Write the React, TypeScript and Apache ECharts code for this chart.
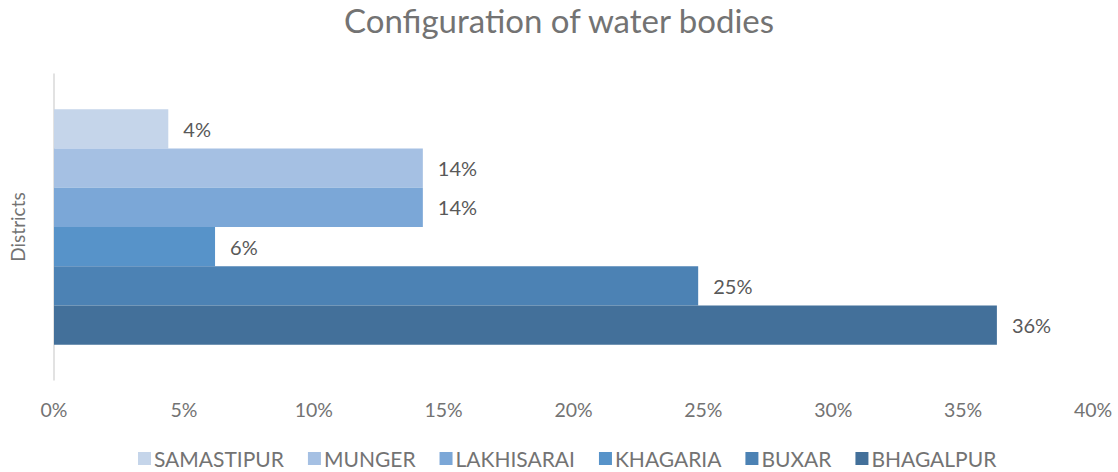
import React, { useEffect, useRef } from "react";
import * as echarts from "echarts";

const categories = ["Districts"];
const seriesNames = ["SAMASTIPUR", "MUNGER", "LAKHISARAI", "KHAGARIA", "BUXAR", "BHAGALPUR"];
const seriesValues = [4.4, 14.2, 14.2, 6.2, 24.8, 36.3];
const seriesColors = ["#C5D5EA", "#A5C0E3", "#7BA7D7", "#5793C9", "#4C82B4", "#43709A"];
const xTicks = { min: 0, max: 40, interval: 5 };

export default function App() {
  const ref = useRef<HTMLDivElement>(null);
  useEffect(() => {
    if (!ref.current) return;
    const chart = echarts.init(ref.current, undefined, { renderer: "svg" });
    const font = "Lato";
    chart.setOption({
      animation: false,
      backgroundColor: "#ffffff",
      title: {
        text: "Configuration of water bodies",
        left: "center",
        top: -2,
        textStyle: { fontFamily: font, fontSize: 33, fontWeight: "normal", color: "#737373" },
      },
      legend: {
        bottom: -2,
        left: 133,
        itemWidth: 13,
        itemHeight: 13,
        itemGap: 24,
        icon: "rect",
        textStyle: { fontFamily: font, fontSize: 21, color: "#737373", padding: [0, 0, 0, -2] },
        data: seriesNames,
      },
      grid: { left: 53, right: 25, top: 74, bottom: 92, containLabel: false },
      xAxis: {
        type: "value",
        min: xTicks.min,
        max: xTicks.max,
        interval: xTicks.interval,
        axisLine: { show: false },
        axisTick: { show: false },
        splitLine: { show: false },
        axisLabel: {
          formatter: "{value}%",
          fontFamily: font,
          fontSize: 19.5,
          color: "#737373",
          margin: 19,
        },
      },
      yAxis: {
        type: "category",
        data: categories,
        inverse: true,
        name: "Districts",
        nameLocation: "middle",
        nameGap: 27,
        nameTextStyle: { fontFamily: font, fontSize: 19, color: "#737373" },
        axisLine: { show: true, lineStyle: { color: "#D9D9D9", width: 1.5 } },
        axisTick: { show: false },
        axisLabel: { show: false },
      },
      series: seriesNames.map((name, i) => ({
        name,
        type: "bar",
        data: [seriesValues[i]],
        barGap: "0%",
        barCategoryGap: "23%",
        itemStyle: { color: seriesColors[i] },
        label: {
          show: true,
          position: "right",
          distance: 15,
          formatter: (p: any) => Math.round(p.value) + "%",
          fontFamily: font,
          fontSize: 20,
          color: "#595959",
        },
      })),
    });
    return () => chart.dispose();
  }, []);
  return (
    <div
      ref={ref}
      style={{ position: "absolute", left: 0, top: 0, width: 1118, height: 472 }}
    />
  );
}
